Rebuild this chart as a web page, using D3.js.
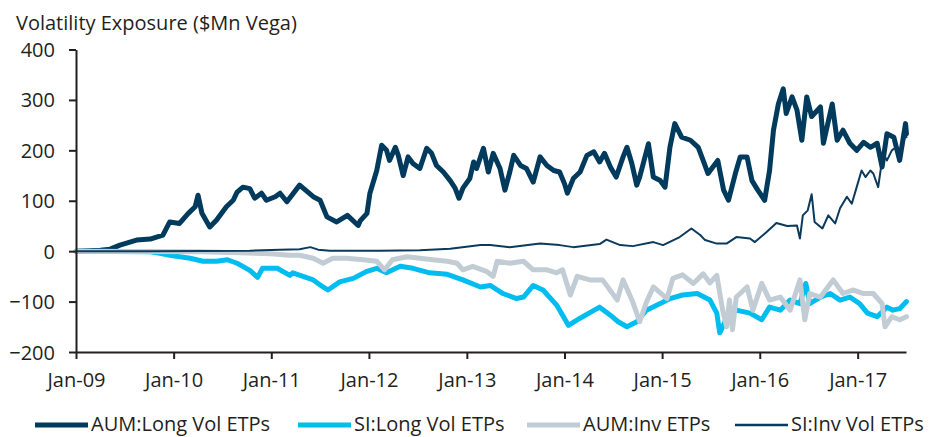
<!DOCTYPE html>
<html>
<head>
<meta charset="utf-8">
<script src="https://cdn.jsdelivr.net/npm/d3@7/dist/d3.min.js"></script>
<style>
  html, body { margin: 0; padding: 0; background: #ffffff; }
  svg { display: block; }
  text { font-family: "Open Sans", "Noto Sans", sans-serif; fill: #231f20; }
</style>
</head>
<body>
<svg id="chart" width="937" height="437"></svg>
<script>
// ---- Data (decimal year, $Mn vega) ----
const title = "Volatility Exposure ($Mn Vega)";
const yTicks = [-200, -100, 0, 100, 200, 300, 400];
const seriesNames = ["AUM:Long Vol ETPs", "SI:Long Vol ETPs", "AUM:Inv ETPs", "SI:Inv Vol ETPs"];

const aumLongVol = [
  [2009.00,0],[2009.25,2],[2009.35,4],[2009.45,12],[2009.62,22],[2009.76,24],[2009.89,32],[2009.96,58],
  [2010.06,55],[2010.15,75],[2010.22,88],[2010.25,111],[2010.29,75],[2010.37,48],[2010.44,62],[2010.54,88],
  [2010.61,101],[2010.65,117],[2010.71,127],[2010.78,124],[2010.83,105],[2010.90,115],[2010.95,101],
  [2011.04,108],[2011.09,115],[2011.16,98],[2011.29,131],[2011.43,108],[2011.50,101],[2011.57,68],
  [2011.67,58],[2011.78,71],[2011.89,51],[2011.91,60],[2011.98,75],[2012.01,115],[2012.08,160],
  [2012.13,210],[2012.18,200],[2012.21,180],[2012.27,206],[2012.30,190],[2012.35,150],[2012.40,187],
  [2012.45,174],[2012.52,164],[2012.59,204],[2012.64,194],[2012.69,170],[2012.76,157],[2012.83,140],
  [2012.88,125],[2012.92,105],[2012.96,125],[2013.03,144],[2013.07,177],[2013.10,164],[2013.17,204],
  [2013.22,157],[2013.27,194],[2013.34,164],[2013.39,121],[2013.44,157],[2013.48,190],[2013.55,170],
  [2013.61,164],[2013.68,137],[2013.75,187],[2013.82,170],[2013.89,160],[2013.95,157],[2014.00,134],
  [2014.03,115],[2014.09,144],[2014.16,157],[2014.23,190],[2014.30,197],[2014.36,177],[2014.41,194],
  [2014.47,167],[2014.53,147],[2014.60,187],[2014.64,206],[2014.69,174],[2014.74,131],[2014.77,147],
  [2014.86,213],[2014.91,147],[2014.98,140],[2015.03,127],[2015.08,206],[2015.13,253],[2015.20,226],
  [2015.29,220],[2015.37,206],[2015.42,180],[2015.47,154],[2015.52,167],[2015.57,180],[2015.63,121],
  [2015.68,101],[2015.75,154],[2015.80,187],[2015.87,187],[2015.92,140],[2015.98,121],[2016.05,101],
  [2016.10,160],[2016.14,240],[2016.19,292],[2016.24,322],[2016.27,273],[2016.33,306],[2016.38,280],
  [2016.43,220],[2016.48,306],[2016.53,267],[2016.62,286],[2016.65,214],[2016.74,292],[2016.79,220],
  [2016.85,240],[2016.92,214],[2016.99,200],[2017.06,216],[2017.13,206],[2017.20,214],[2017.25,167],
  [2017.30,233],[2017.37,226],[2017.43,180],[2017.49,253],[2017.50,233]
];

const siLongVol = [
  [2009.00,0],[2009.76,-1],[2009.86,-4],[2009.96,-8],[2010.17,-14],[2010.30,-20],[2010.44,-20],
  [2010.55,-17],[2010.65,-24],[2010.78,-38],[2010.86,-52],[2010.91,-34],[2011.06,-34],[2011.19,-48],
  [2011.22,-43],[2011.43,-57],[2011.53,-71],[2011.58,-77],[2011.70,-61],[2011.84,-54],[2011.98,-40],
  [2012.08,-34],[2012.18,-43],[2012.32,-30],[2012.45,-34],[2012.62,-43],[2012.80,-46],[2012.96,-57],
  [2013.14,-71],[2013.24,-68],[2013.37,-84],[2013.51,-94],[2013.58,-91],[2013.68,-68],[2013.78,-77],
  [2013.92,-107],[2014.04,-147],[2014.16,-133],[2014.26,-122],[2014.36,-111],[2014.47,-127],
  [2014.55,-140],[2014.64,-150],[2014.74,-140],[2014.84,-117],[2014.98,-104],[2015.08,-94],
  [2015.21,-87],[2015.36,-84],[2015.46,-94],[2015.49,-97],[2015.56,-123],[2015.59,-162],[2015.66,-133],
  [2015.76,-117],[2015.90,-123],[2016.02,-136],[2016.10,-111],[2016.21,-117],[2016.31,-97],
  [2016.41,-104],[2016.47,-64],[2016.51,-104],[2016.62,-91],[2016.72,-84],[2016.82,-97],[2016.92,-91],
  [2017.02,-104],[2017.10,-123],[2017.20,-130],[2017.30,-111],[2017.36,-117],[2017.43,-114],[2017.50,-100]
];

const aumInvEtps = [
  [2009.00,0],[2010.27,-1],[2010.68,-3],[2010.99,-5],[2011.19,-8],[2011.29,-8],[2011.43,-14],
  [2011.53,-24],[2011.63,-14],[2011.77,-14],[2011.94,-17],[2012.08,-20],[2012.16,-37],[2012.24,-17],
  [2012.39,-11],[2012.52,-14],[2012.65,-17],[2012.80,-20],[2012.90,-24],[2012.96,-37],[2013.06,-30],
  [2013.20,-40],[2013.27,-50],[2013.31,-20],[2013.44,-24],[2013.58,-20],[2013.68,-37],[2013.82,-37],
  [2013.92,-43],[2013.98,-37],[2014.06,-87],[2014.13,-50],[2014.26,-57],[2014.39,-57],[2014.54,-97],
  [2014.60,-57],[2014.70,-101],[2014.77,-140],[2014.84,-101],[2014.91,-71],[2015.05,-94],[2015.11,-54],
  [2015.21,-47],[2015.32,-64],[2015.42,-45],[2015.49,-63],[2015.56,-48],[2015.62,-117],[2015.66,-150],
  [2015.69,-97],[2015.72,-156],[2015.76,-91],[2015.87,-71],[2015.93,-117],[2016.02,-64],[2016.10,-97],
  [2016.21,-91],[2016.31,-117],[2016.41,-57],[2016.46,-136],[2016.51,-84],[2016.62,-91],[2016.75,-57],
  [2016.85,-84],[2016.95,-77],[2017.06,-84],[2017.16,-84],[2017.25,-104],[2017.28,-150],[2017.35,-130],
  [2017.43,-136],[2017.50,-130]
];

const siInvVol = [
  [2009.00,0],[2009.76,0],[2010.78,1],[2011.09,3],[2011.29,4],[2011.40,8],[2011.48,3],[2011.60,1],
  [2012.11,1],[2012.52,2],[2012.83,5],[2013.14,12],[2013.24,12],[2013.44,8],[2013.75,15],[2013.95,12],
  [2014.09,8],[2014.36,14],[2014.43,23],[2014.57,12],[2014.70,10],[2014.91,18],[2015.01,12],[2015.18,28],
  [2015.30,45],[2015.39,32],[2015.44,22],[2015.56,15],[2015.66,15],[2015.76,28],[2015.90,25],[2015.95,18],
  [2016.07,38],[2016.17,56],[2016.28,50],[2016.38,51],[2016.41,25],[2016.44,71],[2016.49,81],[2016.53,113],
  [2016.56,58],[2016.64,45],[2016.70,71],[2016.77,55],[2016.82,85],[2016.89,108],[2016.94,94],[2016.99,127],
  [2017.04,160],[2017.08,147],[2017.13,160],[2017.16,154],[2017.21,127],[2017.26,194],[2017.30,180],
  [2017.35,200],[2017.40,207],[2017.43,180],[2017.49,233],[2017.50,226]
];

// ---- Setup ----
const toDate = t => {
  const yr = Math.floor(t), f = t - yr;
  const a = new Date(yr, 0, 1), b = new Date(yr + 1, 0, 1);
  return new Date(+a + f * (b - a));
};

const svg = d3.select("#chart");
const plotLeft = 76, plotRight = 906, plotTop = 49.5, plotBottom = 352;

const x = d3.scaleTime().domain([new Date(2009, 0, 1), toDate(2017.495)]).range([plotLeft, plotRight]);
const y = d3.scaleLinear().domain([-200, 400]).range([plotBottom, plotTop]);

const series = [
  { name: seriesNames[0], data: aumLongVol, color: "#003a5d", width: 5 },
  { name: seriesNames[1], data: siLongVol,  color: "#00bdf0", width: 5 },
  { name: seriesNames[2], data: aumInvEtps, color: "#c1ccd5", width: 5 },
  { name: seriesNames[3], data: siInvVol,   color: "#0b3a5c", width: 2 }
];

// title
svg.append("text").attr("x", 16).attr("y", 30).attr("font-size", 20).text(title);

// lines
const line = d3.line().x(d => x(toDate(d[0]))).y(d => y(d[1]));
series.forEach(s => {
  svg.append("path").datum(s.data).attr("d", line)
    .attr("fill", "none").attr("stroke", s.color).attr("stroke-width", s.width)
    .attr("stroke-linejoin", "round").attr("stroke-linecap", "round");
});

// axes
const yAxis = d3.axisLeft(y).tickValues(yTicks).tickSize(7).tickSizeOuter(0).tickPadding(14).tickFormat(d3.format("d"));
const gy = svg.append("g").attr("transform", `translate(${plotLeft},0)`).call(yAxis);
const xAxis = d3.axisBottom(x).ticks(d3.timeYear.every(1)).tickSize(7).tickSizeOuter(0).tickFormat(d3.timeFormat("%b-%y"));
const gx = svg.append("g").attr("transform", `translate(0,${plotBottom})`).call(xAxis);

[gx, gy].forEach(g => {
  g.select(".domain").attr("stroke", "#231f20").attr("stroke-width", 2);
  g.selectAll(".tick line").attr("stroke", "#231f20").attr("stroke-width", 2);
  g.selectAll(".tick text").attr("font-size", 20).attr("fill", "#231f20")
    .style("font-family", '"Open Sans", "Noto Sans", sans-serif');
});
gy.selectAll(".tick text").attr("dy", "0.35em");
gx.selectAll(".tick text").attr("y", 35).attr("dy", 0);

// legend
const legendStarts = [35, 298, 527, 735];
const lg = svg.append("g");
const ly = 425;
series.forEach((s, i) => {
  const lx = legendStarts[i];
  lg.append("line").attr("x1", lx).attr("x2", lx + 53).attr("y1", ly).attr("y2", ly)
    .attr("stroke", s.color).attr("stroke-width", s.width === 2 ? 2.5 : 5);
  lg.append("text").attr("x", lx + 56).attr("y", ly + 6).attr("font-size", 20).text(s.name);
});
</script>
</body>
</html>
